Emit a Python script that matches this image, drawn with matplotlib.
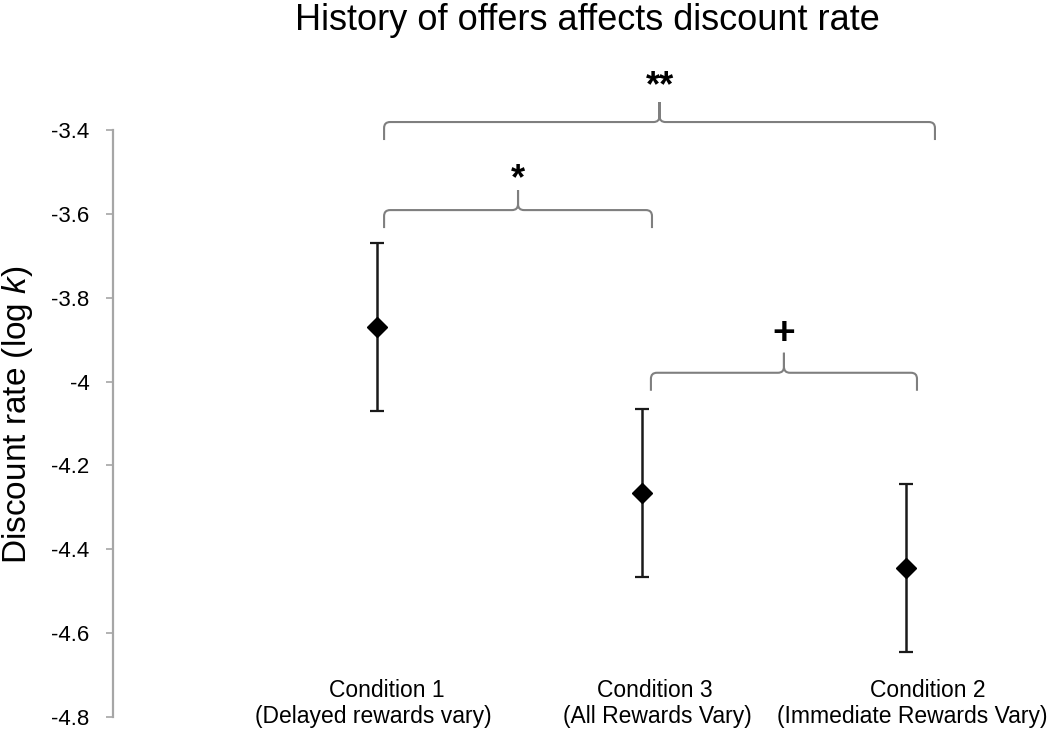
import matplotlib
matplotlib.use("Agg")
import matplotlib.pyplot as plt
from matplotlib.path import Path
from matplotlib.patches import PathPatch
from matplotlib.transforms import IdentityTransform

# ---------------- data ----------------
conditions_line1 = ["Condition 1", "Condition 3", "Condition 2"]
conditions_line2 = ["(Delayed rewards vary)", "(All Rewards Vary)", "(Immediate Rewards Vary)"]
positions = [1, 2, 3]
means = [-3.87, -4.265, -4.445]
errors = [0.20, 0.20, 0.20]

yticks = [-4.8, -4.6, -4.4, -4.2, -4.0, -3.8, -3.6, -3.4]
ytick_labels = ["-4.8", "-4.6", "-4.4", "-4.2", "-4", "-3.8", "-3.6", "-3.4"]

bracket_left = [1.025, 1.025, 2.034]
bracket_right = [3.108, 2.038, 3.040]
bracket_level = [-3.381, -3.591, -3.979]
bracket_labels = ["**", "*", "+"]

title = "History of offers affects discount rate"
ylabel = r"Discount rate (log $\mathit{k}$)"

# ---------------- style ----------------
plt.rcParams["font.family"] = ["Liberation Sans", "DejaVu Sans"]
plt.rcParams["mathtext.fontset"] = "custom"
plt.rcParams["mathtext.rm"] = "Liberation Sans"
plt.rcParams["mathtext.it"] = "Liberation Sans:italic"

W, H = 1050, 735
fig = plt.figure(figsize=(W / 100, H / 100), dpi=100)
ax_left, ax_top, ax_bottom = 113, 130, 717
ax = fig.add_axes([ax_left / W, 1 - ax_bottom / H, 1 - ax_left / W, (ax_bottom - ax_top) / H])
ax.set_xlim(0, 3.543)
ax.set_ylim(-4.8, -3.4)

spine_gray = "#a6a6a6"
for s in ["top", "right", "bottom"]:
    ax.spines[s].set_visible(False)
ax.spines["left"].set_color(spine_gray)
ax.spines["left"].set_linewidth(1.6)
ax.set_xticks([])
ax.set_yticks(yticks)
ax.set_yticklabels(ytick_labels)
ax.tick_params(axis="y", direction="out", length=5, width=1.2, color=spine_gray,
               labelsize=16, pad=12, labelcolor="black")

ax.errorbar(positions, means, yerr=errors, fmt="D", color="black", ecolor="#1a1a1a",
            elinewidth=1.8, capsize=5, capthick=1.6, markersize=10, clip_on=False, zorder=3)

# condition labels
dx1 = [0.036, 0.049, 0.081]
dx2 = [-0.017, 0.057, 0.021]
for p, l1, l2, a, b in zip(positions, conditions_line1, conditions_line2, dx1, dx2):
    ax.text(p + a, -4.737, l1, ha="center", va="center", fontsize=16.5, clip_on=False)
    ax.text(p + b, -4.799, l2, ha="center", va="center", fontsize=16.5, clip_on=False)

# braces drawn in display pixels
fig.canvas.draw()
drop, peak, r = 18, 20, 6
label_sizes = [26, 26, 28]
label_rise_px = [26, 21, 29]
for xl, xr, yl, lab, fs, rise in zip(bracket_left, bracket_right, bracket_level,
                                     bracket_labels, label_sizes, label_rise_px):
    (X0, Y), = ax.transData.transform([(xl, yl)])
    (X1, _), = ax.transData.transform([(xr, yl)])
    Xm = (X0 + X1) / 2
    verts = [(X0, Y - drop), (X0, Y - r), (X0, Y), (X0 + r, Y), (Xm - r, Y),
             (Xm, Y), (Xm, Y + r), (Xm, Y + peak), (Xm, Y + r), (Xm, Y), (Xm + r, Y),
             (X1 - r, Y), (X1, Y), (X1, Y - r), (X1, Y - drop)]
    codes = [Path.MOVETO, Path.LINETO, Path.CURVE3, Path.CURVE3, Path.LINETO,
             Path.CURVE3, Path.CURVE3, Path.LINETO, Path.LINETO, Path.CURVE3, Path.CURVE3,
             Path.LINETO, Path.CURVE3, Path.CURVE3, Path.LINETO]
    patch = PathPatch(Path(verts, codes), facecolor="none", edgecolor="#7f7f7f",
                      lw=1.5, transform=IdentityTransform(), clip_on=False)
    fig.add_artist(patch)
    xm_data = (xl + xr) / 2
    ax.annotate(lab, xy=(xm_data, yl), xytext=(0, rise * 0.72), textcoords="offset points",
                ha="center", va="baseline", fontsize=fs, fontweight="bold",
                annotation_clip=False)

fig.text(587 / W, 1 - 3 / H, title, ha="center", va="top", fontsize=26)
fig.text(18 / W, 1 - 415 / H, ylabel, ha="center", va="center", rotation=90, fontsize=24)

fig.savefig("out.png", dpi=100, facecolor="white")
